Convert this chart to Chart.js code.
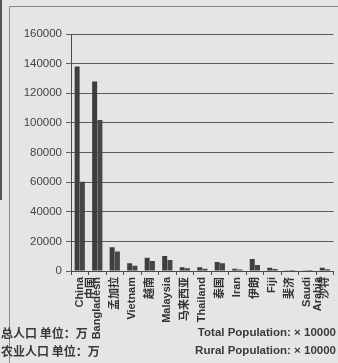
<!DOCTYPE html>
<html>
<head>
<meta charset="utf-8">
<script src="https://cdn.jsdelivr.net/npm/chart.js@4/dist/chart.umd.min.js"></script>
<style>
  html, body { margin: 0; padding: 0; background: #e5e5e3; }
  #wrap { position: relative; width: 338px; height: 363px; }
  canvas { display: block; }
</style>
</head>
<body>
<div id="wrap"><canvas id="c" width="338" height="363"></canvas></div>
<script>
// Country labels along the bottom axis
const categories = [
  ['China', '中国'], 'Bangladesh', '孟加拉', 'Vietnam', '越南', 'Malaysia', '马来西亚',
  'Thailand', '泰国', 'Iran', '伊朗', 'Fiji', '斐济', ['Saudi', 'Arabia'], '沙特'
];
// Total population (10,000 people)
const totalPopulation = [138000, 128000, 16000, 5200, 9000, 10200, 2500, 2500, 6100, 1600, 8100, 2200, 90, 150, 2200];
// Rural population (10,000 people)
const ruralPopulation = [60300, 102000, 13100, 3600, 6800, 7500, 1800, 1500, 5200, 1000, 4100, 1300, 40, 60, 1100];
// Value axis ticks
const yTicks = [0, 20000, 40000, 60000, 80000, 100000, 120000, 140000, 160000];
// Unit notes under the chart
const unitNotesCn = ['总人口 单位：万', '农业人口 单位：万'];
const unitNotesEn = ['Total Population: × 10000', 'Rural Population: × 10000'];

const notesPlugin = {
  id: 'unitNotes',
  beforeDraw(chart) {
    const ctx = chart.ctx;
    ctx.save();
    // sheet frame
    ctx.strokeStyle = '#8a8a8a';
    ctx.lineWidth = 1;
    ctx.beginPath();
    ctx.moveTo(9.5, 363); ctx.lineTo(9.5, 6.5); ctx.lineTo(338, 6.5);
    ctx.stroke();
    ctx.fillStyle = '#555';
    ctx.fillRect(0, 0, 2, 200);
    ctx.restore();
  },
  afterDraw(chart) {
    const ctx = chart.ctx;
    ctx.save();
    ctx.fillStyle = '#3a3a3a';
    ctx.textBaseline = 'middle';
    ctx.font = 'bold 12px "Noto Sans CJK SC", sans-serif';
    ctx.textAlign = 'left';
    ctx.fillText(unitNotesCn[0], 1, 333);
    ctx.fillText(unitNotesCn[1], 1, 351);
    ctx.font = 'bold 11.5px "Liberation Sans", Arial, sans-serif';
    ctx.textAlign = 'right';
    ctx.fillText(unitNotesEn[0], 336, 333);
    ctx.fillText(unitNotesEn[1], 336, 351);
    ctx.restore();
  }
};

new Chart(document.getElementById('c'), {
  type: 'bar',
  data: {
    labels: categories,
    datasets: [
      { label: 'Total Population', data: totalPopulation, backgroundColor: '#3e3e3e',
        categoryPercentage: 0.6, barPercentage: 0.95 },
      { label: 'Rural Population', data: ruralPopulation, backgroundColor: '#464646',
        categoryPercentage: 0.6, barPercentage: 0.95 }
    ]
  },
  options: {
    responsive: false,
    animation: false,
    layout: { padding: { top: 34, right: 3, left: 0, bottom: 0 } },
    plugins: { legend: { display: false }, tooltip: { enabled: false } },
    scales: {
      x: {
        offset: true,
        afterFit(s) { s.height = 92; },
        border: { display: true, color: '#4a4a4a', width: 1 },
        grid: { offset: true, drawOnChartArea: false, drawTicks: true, tickLength: 4, color: '#4a4a4a' },
        ticks: {
          autoSkip: false, maxRotation: 90, minRotation: 90, padding: 2,
          color: '#333',
          font: { family: '"Liberation Sans", "Noto Sans CJK SC", sans-serif', size: 11, weight: 'bold', lineHeight: 1.0 }
        }
      },
      y: {
        min: 0, max: 160000,
        afterFit(s) { s.width = 71; },
        afterBuildTicks(s) { s.ticks = yTicks.map(v => ({ value: v })); },
        border: { display: true, color: '#4a4a4a', width: 1 },
        grid: { color: '#5c5c5c', lineWidth: 1, tickLength: 5 },
        ticks: {
          padding: 4, color: '#444',
          font: { family: '"Liberation Sans", Arial, sans-serif', size: 11.5 },
          callback: v => String(v)
        }
      }
    }
  },
  plugins: [notesPlugin]
});
</script>
</body>
</html>
